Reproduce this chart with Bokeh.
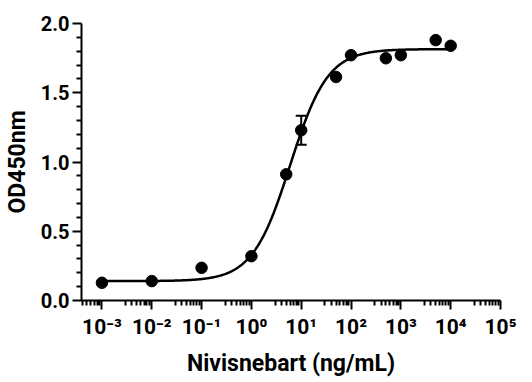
import numpy as np
from bokeh.plotting import figure
from bokeh.models import (Range1d, FixedTicker, CustomJSTickFormatter,
                          ColumnDataSource, Whisker, TeeHead)
from bokeh.embed import file_html
from bokeh.resources import INLINE

# ---- data ----
conc = [0.001, 0.01, 0.1, 1, 5, 10, 50, 100, 500, 1000, 5000, 10000]
od450 = [0.128, 0.140, 0.236, 0.320, 0.911, 1.229, 1.614, 1.771, 1.749, 1.771, 1.880, 1.839]
sd = [0, 0, 0, 0, 0, 0.105, 0, 0, 0, 0, 0, 0]

# 4PL fit parameters of the drawn curve
fit_bottom = 0.14
fit_top = 1.815
fit_ec50 = 6.0
fit_hill = 1.15
curve_from, curve_to = 1e-3, 1e4

x_major = [1e-3, 1e-2, 1e-1, 1e0, 1e1, 1e2, 1e3, 1e4, 1e5]
y_major = [0.0, 0.5, 1.0, 1.5, 2.0]
y_minor = [round(0.1 * i, 1) for i in range(21) if i % 5]
x_minor = [m * 10.0 ** k for k in range(-4, 5) for m in range(3, 10)]

FONT = "Roboto"

p = figure(width=516, height=379, x_axis_type="log",
           x_range=Range1d(10 ** -3.41, 1e5), y_range=Range1d(0, 2.0),
           output_backend="svg", toolbar_location=None,
           min_border_left=70, min_border_top=23, min_border_right=16,
           min_border_bottom=75)
p.outline_line_color = None
p.xgrid.grid_line_color = None
p.ygrid.grid_line_color = None
p.background_fill_color = "white"
p.border_fill_color = "white"

# fitted curve
xc = np.logspace(np.log10(curve_from), np.log10(curve_to), 500)
yc = fit_bottom + (fit_top - fit_bottom) / (1 + (fit_ec50 / xc) ** fit_hill)
p.line(xc, yc, line_color="black", line_width=2.5)

# error bars (only where visible)
eb = ColumnDataSource(dict(
    x=[c for c, s in zip(conc, sd) if s > 0],
    upper=[v + s for v, s in zip(od450, sd) if s > 0],
    lower=[v - s for v, s in zip(od450, sd) if s > 0],
))
w = Whisker(base="x", upper="upper", lower="lower", source=eb,
            line_color="black", line_width=2,
            upper_head=TeeHead(size=11, line_width=2, line_color="black"),
            lower_head=TeeHead(size=11, line_width=2, line_color="black"))
p.add_layout(w)

p.scatter(conc, od450, marker="circle", size=11.5,
          fill_color="black", line_color="black")

# axes
p.xaxis.ticker = FixedTicker(ticks=x_major, minor_ticks=x_minor)
p.yaxis.ticker = FixedTicker(ticks=y_major, minor_ticks=y_minor)
p.yaxis.formatter = CustomJSTickFormatter(code="return tick.toFixed(1);")
p.xaxis.formatter = CustomJSTickFormatter(code="""
const sup = {"-":"\u207b","0":"\u2070","1":"\u00b9","2":"\u00b2","3":"\u00b3",
             "4":"\u2074","5":"\u2075","6":"\u2076","7":"\u2077","8":"\u2078","9":"\u2079"};
const e = Math.round(Math.log10(tick));
return "10" + String(e).split("").map(c => sup[c]).join("");
""")

p.xaxis.axis_label = "Nivisnebart (ng/mL)"
p.yaxis.axis_label = "OD450nm"

for ax in (p.xaxis[0], p.yaxis[0]):
    ax.axis_line_width = 2
    ax.axis_line_color = "black"
    ax.major_tick_line_width = 2
    ax.minor_tick_line_width = 2
    ax.major_tick_line_color = "black"
    ax.minor_tick_line_color = "black"
    ax.major_tick_in = 0
    ax.major_tick_out = 9
    ax.minor_tick_in = 0
    ax.minor_tick_out = 5
    ax.major_label_text_font = FONT
    ax.major_label_text_font_style = "bold"
    ax.major_label_text_font_size = "20px"
    ax.major_label_text_color = "black"
    ax.axis_label_text_font = FONT
    ax.axis_label_text_font_style = "bold"
    ax.axis_label_text_font_size = "23px"
    ax.axis_label_text_color = "black"

p.xaxis.major_label_text_font_size = "21px"
p.xaxis.major_label_standoff = 5
p.yaxis.major_label_standoff = 3
p.xaxis.axis_label_standoff = 8
p.yaxis.axis_label_standoff = 7

with open("out.html", "w", encoding="utf-8") as f:
    f.write(file_html(p, INLINE))
